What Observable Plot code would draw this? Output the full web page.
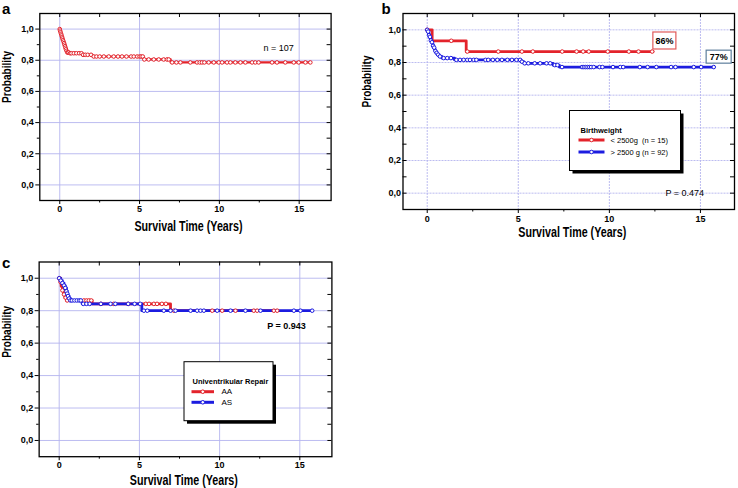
<!DOCTYPE html>
<html><head><meta charset="utf-8">
<script src="https://cdn.jsdelivr.net/npm/d3@7"></script>
<script src="https://cdn.jsdelivr.net/npm/@observablehq/plot@0.6"></script>
<style>
html,body{margin:0;padding:0;background:#fff;}
#wrap{position:relative;width:738px;height:488px;overflow:hidden;background:#fff;}
.pane{position:absolute;}
</style></head><body>
<div id="wrap"></div>
<script>
// ---------------- data ----------------
const xMajor = [0, 5, 10, 15];
const xMinor = [2.5, 7.5, 12.5];
const xTickLabels = ["0", "5", "10", "15"];
const yMajor = [0, 0.2, 0.4, 0.6, 0.8, 1.0];
const yMinor = [0.1, 0.3, 0.5, 0.7, 0.9];
const yTickLabels = ["0,0", "0,2", "0,4", "0,6", "0,8", "1,0"];
const xTitle = "Survival Time (Years)";
const yTitle = "Probability";
const panelLetters = ["a", "b", "c"];

// Panel a: all patients
const aStepTime = [0, 0.02, 0.05, 0.08, 0.11, 0.14, 0.17, 0.2, 0.24, 0.27, 0.3, 0.33, 0.36, 0.39, 0.43, 0.47, 0.6, 1.4, 2.05, 5.25, 6.95];
const aStepSurv = [1.0, 0.99, 0.98, 0.97, 0.96, 0.95, 0.94, 0.93, 0.92, 0.91, 0.90, 0.89, 0.88, 0.87, 0.86, 0.85, 0.845, 0.835, 0.824, 0.805, 0.786];
const aEnd = 15.7;
const aMarkTime = [0, 0.02, 0.05, 0.08, 0.11, 0.14, 0.17, 0.2, 0.24, 0.27, 0.3, 0.33, 0.36, 0.39, 0.43, 0.47, 0.52, 0.56, 0.65, 0.73, 0.88, 1.04, 1.21, 1.36, 1.46, 1.6, 1.75, 1.96, 2.13, 2.3, 2.5, 2.76, 3.07, 3.38, 3.65, 3.9, 4.18, 4.47, 4.64, 4.85, 5.0, 5.1, 5.2, 5.3, 5.57, 5.89, 6.2, 6.51, 6.72, 6.83, 7.04, 7.31, 7.56, 8.18, 8.6, 8.77, 8.91, 9.06, 9.33, 9.65, 9.96, 10.17, 10.48, 10.69, 11.0, 11.32, 11.63, 12.05, 12.25, 12.46, 13.3, 13.61, 14.13, 14.66, 14.97, 15.39, 15.7];
const aNote = "n = 107";

// Panel b: birthweight
const bLowStepTime = [0, 0.27, 2.14];
const bLowStepSurv = [1.0, 0.933, 0.867];
const bLowEnd = 12.4;
const bLowMarkTime = [0, 1.32, 2.2, 3.9, 5.2, 5.8, 7.41, 8.2, 8.56, 8.87, 9.91, 11.07, 11.6, 12.35];
const bHighStepTime = [0, 0.03, 0.07, 0.1, 0.13, 0.16, 0.2, 0.24, 0.28, 0.32, 0.36, 0.4, 0.44, 0.48, 0.55, 0.65, 0.8, 1.5, 5.15, 5.3, 6.9, 7.25];
const bHighStepSurv = [1.0, 0.989, 0.978, 0.967, 0.957, 0.946, 0.935, 0.924, 0.913, 0.902, 0.891, 0.880, 0.870, 0.859, 0.848, 0.837, 0.827, 0.816, 0.805, 0.795, 0.784, 0.772];
const bHighEnd = 15.73;
const bHighMarkTime = [0, 0.05, 0.1, 0.15, 0.2, 0.26, 0.32, 0.38, 0.45, 0.52, 0.6, 0.7, 0.9, 1.1, 1.3, 1.6, 1.8, 2.0, 2.2, 2.35, 2.55, 2.7, 3.2, 3.35, 3.6, 3.85, 4.1, 4.4, 4.65, 4.9, 5.1, 5.2, 5.35, 5.55, 5.9, 6.2, 6.55, 6.75, 7.0, 7.15, 7.4, 8.5, 8.6, 8.7, 8.8, 8.9, 9.0, 9.14, 9.46, 9.62, 10.2, 10.6, 10.76, 11.67, 12.1, 12.58, 13.39, 13.63, 14.63, 15.04, 15.73];
const bLegendTitle = "Birthweight";
const bLegendLabels = ["< 2500g  (n = 15)", "> 2500 g (n = 92)"];
const bBoxLabels = ["86%", "77%"];
const bNote = "P = 0.474";

// Panel c: univentricular repair
const cAAStepTime = [0, 0.05, 0.12, 0.2, 0.28, 0.36, 0.45, 2.05, 6.94];
const cAAStepSurv = [1.0, 0.975, 0.95, 0.925, 0.9, 0.88, 0.863, 0.842, 0.80];
const cAAEnd = 13.6;
const cAAMarkTime = [0, 0.1, 0.2, 0.3, 0.4, 0.5, 1.54, 1.7, 1.85, 2.0, 2.6, 3.4, 4.3, 5.4, 5.6, 5.9, 6.1, 6.4, 6.65, 7.15, 9.54, 10.16, 10.99, 12.13, 12.34, 13.38, 13.59];
const cASStepTime = [0, 0.1, 0.2, 0.3, 0.38, 0.45, 0.5, 0.55, 0.62, 0.7, 1.43, 5.15];
const cASStepSurv = [1.0, 0.985, 0.97, 0.955, 0.94, 0.92, 0.905, 0.89, 0.875, 0.863, 0.842, 0.80];
const cASEnd = 15.77;
const cASMarkTime = [0, 0.1, 0.2, 0.3, 0.38, 0.45, 0.5, 0.55, 0.62, 0.7, 0.8, 0.95, 1.1, 1.25, 1.35, 1.5, 1.7, 1.9, 2.6, 3.2, 3.5, 4.3, 4.7, 5.05, 5.28, 5.49, 6.52, 6.94, 7.25, 8.19, 8.6, 8.81, 9.02, 9.85, 10.68, 11.61, 12.55, 14.63, 15.04, 15.77];
const cLegendTitle = "Univentrikular Repair";
const cLegendLabels = ["AA", "AS"];
const cNote = "P = 0.943";

// ---------------- helpers ----------------
const RED = "#e3232b", BLUE = "#1c1ce0", GRID = "#b4b4ee";
const FONT = "'Liberation Sans', Arial, Helvetica, sans-serif";

function sAt(times, surv, t) {
  let s = surv[0];
  for (let i = 0; i < times.length; i++) if (times[i] <= t + 1e-9) s = surv[i];
  return s;
}
function stepRows(times, surv, end) {
  const rows = times.map((t, i) => ({t, s: surv[i]}));
  rows.push({t: end, s: surv[surv.length - 1]});
  return rows;
}
function markRows(times, surv, marks) {
  return marks.map(t => ({t, s: sAt(times, surv, t)}));
}

function makePanel(cfg) {
  const {width, height, mt, mr, mb, ml, xDomain, series, leftInward, gridDash, xPad, yPad, texts, xTitleOff, yTitleOff} = cfg;
  const innerW = width - ml - mr, innerH = height - mt - mb;
  const gridOpts = {stroke: GRID, strokeOpacity: 1, strokeWidth: 0.9, strokeDasharray: gridDash};
  const marks = [
    Plot.gridX(xMajor, gridOpts),
    Plot.gridY(yMajor, gridOpts)
  ];
  for (const s of series) marks.push(Plot.line(s.line, {x: "t", y: "s", curve: "step-after", stroke: s.color, strokeWidth: s.width}));
  for (const s of series) marks.push(Plot.dot(s.dots, {x: "t", y: "s", r: 1.8, stroke: s.color, fill: "white", strokeWidth: 1}));
  marks.push(
    Plot.frame({stroke: "black", strokeWidth: 1.3}),
    Plot.axisX(xMajor, {anchor: "bottom", tickSize: 4, tickPadding: xPad, tickFormat: d => xTickLabels[xMajor.indexOf(d)], fontSize: 9, fontWeight: "bold", label: null}),
    Plot.axisX(xMinor, {anchor: "bottom", tickSize: 2.5, fill: "none", label: null}),
    Plot.ruleX([...xMajor, ...xMinor], {insetBottom: innerH - 4, stroke: "black"}),
    Plot.ruleY([...yMajor, ...yMinor], {insetLeft: innerW - 4, stroke: "black"})
  );
  if (leftInward) {
    marks.push(
      Plot.ruleY([...yMajor, ...yMinor], {insetRight: innerW - 4, stroke: "black"}),
      Plot.axisY(yMajor, {anchor: "left", tickSize: 0, tickPadding: yPad, tickFormat: d => yTickLabels[yMajor.indexOf(d)], fontSize: 9, fontWeight: "bold", label: null})
    );
  } else {
    marks.push(
      Plot.axisY(yMajor, {anchor: "left", tickSize: 4, tickPadding: yPad, tickFormat: d => yTickLabels[yMajor.indexOf(d)], fontSize: 9, fontWeight: "bold", label: null}),
      Plot.axisY(yMinor, {anchor: "left", tickSize: 2.5, fill: "none", label: null})
    );
  }
  marks.push(
    Plot.text([xTitle], {text: d => d, frameAnchor: "bottom", dx: xTitleOff[0], dy: xTitleOff[1], fontSize: 14, fontWeight: "bold", lineAnchor: "middle"}),
    Plot.text([yTitle], {text: d => d, frameAnchor: "left", rotate: -90, dx: yTitleOff[0], dy: yTitleOff[1], fontSize: 12.5, fontWeight: "bold", lineAnchor: "middle"})
  );
  for (const t of texts) marks.push(Plot.text([t], {x: "x", y: "y", text: "text", textAnchor: t.anchor || "start", fontSize: 9, fontWeight: t.weight || "normal", lineAnchor: "middle"}));
  return Plot.plot({
    width, height, marginTop: mt, marginRight: mr, marginBottom: mb, marginLeft: ml,
    x: {domain: xDomain, label: null},
    y: {domain: [-0.1, 1.1], label: null},
    style: {fontFamily: FONT, fontSize: "9px", background: "transparent", overflow: "visible", color: "black"},
    marks
  });
}

const wrap = document.getElementById("wrap");
function place(svg, left, top) {
  const d = document.createElement("div");
  d.className = "pane";
  d.style.left = left + "px";
  d.style.top = top + "px";
  d.appendChild(svg);
  wrap.appendChild(d);
  d3.select(svg).selectAll("text").each(function() {
    const el = d3.select(this);
    if (this.textContent === xTitle) el.attr("textLength", 108).attr("lengthAdjust", "spacingAndGlyphs");
    if (this.textContent === yTitle) el.attr("textLength", 52).attr("lengthAdjust", "spacingAndGlyphs");
  });
  return svg;
}

// ---------------- panel a ----------------
const plotA = makePanel({
  width: 370, height: 240, mt: 13, mr: 39.4, mb: 40, ml: 39.3,
  xDomain: [-1.25, 17], leftInward: false, gridDash: null, xPad: 1, yPad: 2,
  xTitleOff: [3, 26.5], yTitleOff: [-32.5, -4],
  series: [{color: RED, width: 2.2, line: stepRows(aStepTime, aStepSurv, aEnd), dots: markRows(aStepTime, aStepSurv, aMarkTime)}],
  texts: [{x: 12.76, y: 0.876, text: aNote}]
});
place(plotA, 0, 0);

// ---------------- panel b ----------------
const plotB = makePanel({
  width: 388, height: 240, mt: 13, mr: 4, mb: 31, ml: 52.5,
  xDomain: [-1.33, 16.87], leftInward: true, gridDash: "2,1", xPad: 2, yPad: 2,
  xTitleOff: [3.5, 23], yTitleOff: [-36.5, -4],
  series: [
    {color: RED, width: 2.8, line: stepRows(bLowStepTime, bLowStepSurv, bLowEnd), dots: markRows(bLowStepTime, bLowStepSurv, bLowMarkTime)},
    {color: BLUE, width: 2.8, line: stepRows(bHighStepTime, bHighStepSurv, bHighEnd), dots: markRows(bHighStepTime, bHighStepSurv, bHighMarkTime)}
  ],
  texts: [
    {x: 13.08, y: 0, text: bNote},
    {x: 13.02, y: 0.934, text: bBoxLabels[0], anchor: "middle", weight: "bold"},
    {x: 16.0, y: 0.835, text: bBoxLabels[1], anchor: "middle", weight: "bold"}
  ]
});
place(plotB, 350, 0);
// boxes around percentage labels
const boxStyle = {"86%": {stroke: "#e05a5a", px: 2.5, py: 3.5}, "77%": {stroke: "#5d7e9c", px: 3.5, py: 1.5}};
d3.select(plotB).selectAll("text").each(function() {
  const st = boxStyle[this.textContent];
  if (!st) return;
  const bb = this.getBBox();
  const parent = this.parentNode;
  const r = document.createElementNS("http://www.w3.org/2000/svg", "rect");
  r.setAttribute("x", bb.x - st.px); r.setAttribute("y", bb.y - st.py);
  r.setAttribute("width", bb.width + 2 * st.px); r.setAttribute("height", bb.height + 2 * st.py);
  r.setAttribute("fill", "white"); r.setAttribute("stroke", st.stroke); r.setAttribute("stroke-width", 1.2);
  const tr = this.getAttribute("transform");
  if (tr) r.setAttribute("transform", tr);
  parent.insertBefore(r, this);
});

// ---------------- panel c ----------------
const plotC = makePanel({
  width: 370, height: 248, mt: 21.5, mr: 38.6, mb: 31.8, ml: 38.65,
  xDomain: [-1.25, 17], leftInward: false, gridDash: null, xPad: 1, yPad: 2,
  xTitleOff: [-1.7, 24], yTitleOff: [-32.3, -1.5],
  series: [
    {color: RED, width: 2.8, line: stepRows(cAAStepTime, cAAStepSurv, cAAEnd), dots: markRows(cAAStepTime, cAAStepSurv, cAAMarkTime)},
    {color: BLUE, width: 2.8, line: stepRows(cASStepTime, cASStepSurv, cASEnd), dots: markRows(cASStepTime, cASStepSurv, cASMarkTime)}
  ],
  texts: [{x: 12.97, y: 0.704, text: cNote, weight: "bold"}]
});
place(plotC, 0, 240);

// ---------------- overlay: letters and legends ----------------
const ov = d3.select(wrap).append("svg")
  .attr("width", 738).attr("height", 488)
  .style("position", "absolute").style("left", "0px").style("top", "0px")
  .style("font-family", FONT);

const letterPos = [[2, 13.5], [381.5, 13.5], [2, 268]];
panelLetters.forEach((l, i) => {
  ov.append("text").attr("x", letterPos[i][0]).attr("y", letterPos[i][1])
    .attr("font-size", 15).attr("font-weight", "bold").text(l);
});

function legend(x, y, w, h, title, labels, colors, lay) {
  const g = ov.append("g").attr("transform", `translate(${x},${y})`);
  g.append("rect").attr("x", 3).attr("y", 3).attr("width", w).attr("height", h).attr("fill", "#000");
  g.append("rect").attr("width", w).attr("height", h).attr("fill", "#fff").attr("stroke", "#000").attr("stroke-width", 1);
  g.append("text").attr("x", lay.tx).attr("y", lay.ty).attr("dy", "0.35em")
    .attr("font-size", 7.5).attr("font-weight", "bold").text(title);
  labels.forEach((lab, i) => {
    const yy = lay.ry + i * lay.gap;
    g.append("line").attr("x1", lay.lx0).attr("x2", lay.lx1).attr("y1", yy).attr("y2", yy)
      .attr("stroke", colors[i]).attr("stroke-width", 3);
    g.append("circle").attr("cx", (lay.lx0 + lay.lx1) / 2).attr("cy", yy).attr("r", 1.8)
      .attr("fill", "#fff").attr("stroke", colors[i]).attr("stroke-width", 1);
    g.append("text").attr("x", lay.txt).attr("y", yy).attr("dy", "0.35em")
      .attr("font-size", lay.fs).style("white-space", "pre").text(lab);
  });
}
legend(569.5, 110.5, 111, 60, bLegendTitle, bLegendLabels, [RED, BLUE],
  {tx: 11, ty: 20, ry: 29.5, gap: 12, lx0: 9, lx1: 35, txt: 41, fs: 7.5});
legend(184, 361.7, 89, 59, cLegendTitle, cLegendLabels, [RED, BLUE],
  {tx: 8.5, ty: 19.5, ry: 30, gap: 10.6, lx0: 7.5, lx1: 30, txt: 37.5, fs: 8});
</script>
</body></html>
